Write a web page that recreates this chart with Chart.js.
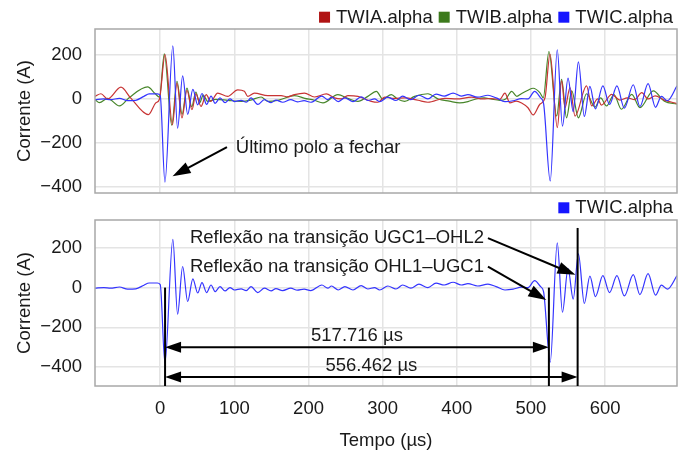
<!DOCTYPE html>
<html><head><meta charset="utf-8">
<script src="https://cdn.jsdelivr.net/npm/chart.js@4.4.0/dist/chart.umd.min.js"></script>
<style>
html,body{margin:0;padding:0;background:#fff;}
#wrap{position:relative;width:689px;height:456px;overflow:hidden;}
.cv{position:absolute;left:0;}
</style></head><body>
<div id="wrap">
<canvas id="c1" class="cv" style="top:0" width="689" height="200"></canvas>
<canvas id="c2" class="cv" style="top:200px" width="689" height="256"></canvas>
</div>
<script>
// ---------- data ----------
const seriesNames = ['TWIA.alpha', 'TWIB.alpha', 'TWIC.alpha'];
const xTickStep = 100;   // µs
const yTickStep = 100;   // A (labels every 200)

// TWIA.alpha (time µs / current A)
const tA = [-88,-80,-71,-53,-40,-16,-6,-1,6.5,16.5,22.5,29.3,36,42.8,48,55,62,68,77.5,91,104.5,113.5,118,127,145,163,172,181,194.5,208,224,235,244,253,266.6,284.6,293.7,302.7,315,329.7,347.7,361,383.8,400,419.8,435,446.8,458,464.9,471.6,480,487.4,496,503,512,519,525.7,535.6,541.4,545.9,552.7,559.5,575,582,590,595,609,620,630,640,649.5,658,667.6,680,697];
const vA = [12,24,0,54,5,-72,-18,0,203,-118,73,-87,40,-49,23,-34,20,-11,27,12,42,35,12,27,15,15,10,20,27,9,23,5,0,15,12,-11,-15,8,3,5,-6,-15,3,0,8,0,2,-2,27,-18,-10,-18,-40,-73,-24,6,205,-131,83,-40,52,-78,60,-32,0,-28,21,-5,5,-3,29,0,14,-5,-21];

// TWIB.alpha
const tB = [-88,-82,-71,-55,-42,-17,-7,-1,5.5,15.5,22.6,29.5,36,42.5,48,53,58,64,75,91,109,122,136,145,160,181,195,208,219.5,239.6,253,266.6,280,291.5,300,311.7,320,329.7,343,361,375,390,404,415,426,437,446,458,466,474,481,487,496,503,512,516.6,524.3,534.7,541.4,548,555,564,575,586.5,594,602,612,622,636,647,665,680,697];
const vB = [-3,-17,3,-32,6,55,25,8,206,-120,81,-70,50,-35,32,-18,18,-11,-2,-6,-11,-5,9,-11,-5,15,3,-6,-18,20,3,-11,12,35,0,20,0,-11,12,24,0,-10,-18,-12,0,5,0,-6,0,35,12,24,40,49,29,6,217,-78,90,-86,37,-86,24,-37,5,-32,20,-47,21,-40,37,-10,-24];

// TWIC.alpha
const tC = [-88,-76,-67,-55,-44,-33,-22,-15,-4,0,6.3,17,23.4,30.2,37,44,50.5,56.3,62.6,68.5,74,80.6,87.4,94,100,109,116,122.5,131.5,140.5,149.5,156,165,176,185,194,203,218,226,231,240,249,260,271,280,289,296,307,318,327,338,349,361,372,383,395,406,415,428,442,453,465,476,487,496,505,513,517,526,535.5,542.5,550,557,564,572,579.5,587,597,606,616,626,638,647,658,668,676,684,697];
const vC = [-3,0,-3,3,-8,-6,12,23,23,15,-380,243,-134,106,-70,44,-27,25,-25,13,-20,5,-17,0,-12,-6,-15,5,-25,-3,-17,-5,-15,-3,-13,-8,-15,13,-3,8,-12,5,-12,10,-7,0,-12,8,-7,13,-3,17,0,22,13,27,13,20,8,17,5,-12,-8,2,0,35,5,-20,-375,225,-124,95,-58,170,-80,58,-45,60,-25,60,-42,65,-35,70,-38,12,-8,60];

// annotation values (data units)
const T0 = 6.5;                       // first arrival (µs)
const delays = [517.716, 556.462];    // µs
const reflLabels = ['Reflexão na transição UGC1–OHL2', 'Reflexão na transição OHL1–UGC1'];
const topLabel = 'Último polo a fechar';

// ---------- style ----------
const FAMILY = "'Liberation Sans', Arial, sans-serif";
const FS = 18.5;
const FONT = {family: FAMILY, size: FS, lineHeight: 1.2};
const TXT = '#1a1a1a';
const GRID = '#e4e4e4';
const FRAME = '#a8a8a8';
const lineCol = ['#c83434', '#47862a', '#3434ff'];
const boxCol  = ['#b01313', '#3c7a1c', '#1616ff'];

const pts = (t, v) => t.map((x, i) => ({x, y: v[i]}));
const fmtY = v => (v % 200 === 0) ? (v < 0 ? '\u2212' + Math.abs(v) : String(v)) : '';

function ds(i, t, v, order) {
  return {label: seriesNames[i], data: pts(t, v), borderColor: lineCol[i], backgroundColor: boxCol[i],
    boxColor: boxCol[i], borderWidth: 1.2, pointRadius: 0, cubicInterpolationMode: 'monotone', order};
}

function arrowHead(ctx, x1, y1, x2, y2, len, hw) {
  const a = Math.atan2(y2 - y1, x2 - x1), c = Math.cos(a), s = Math.sin(a);
  ctx.beginPath();
  ctx.moveTo(x2, y2);
  ctx.lineTo(x2 - c * len - s * hw, y2 - s * len + c * hw);
  ctx.lineTo(x2 - c * len + s * hw, y2 - s * len - c * hw);
  ctx.closePath(); ctx.fill();
}
function arrow(ctx, x1, y1, x2, y2, len, hw, both) {
  const a = Math.atan2(y2 - y1, x2 - x1), c = Math.cos(a), s = Math.sin(a);
  ctx.beginPath();
  ctx.moveTo(both ? x1 + c * len * 0.8 : x1, both ? y1 + s * len * 0.8 : y1);
  ctx.lineTo(x2 - c * len * 0.8, y2 - s * len * 0.8);
  ctx.stroke();
  arrowHead(ctx, x1, y1, x2, y2, len, hw);
  if (both) arrowHead(ctx, x2, y2, x1, y1, len, hw);
}

const framePlugin = {id: 'frame', afterDatasetsDraw(chart) {
  const a = chart.chartArea, ctx = chart.ctx;
  ctx.save(); ctx.strokeStyle = FRAME; ctx.lineWidth = 1.5;
  ctx.strokeRect(a.left, a.top, a.right - a.left, a.bottom - a.top);
  ctx.restore();
}};

const legendPlugin = {id: 'mylegend', afterDraw(chart, args, opts) {
  const ctx = chart.ctx; ctx.save();
  ctx.font = FS + 'px ' + FAMILY; ctx.textBaseline = 'alphabetic'; ctx.textAlign = 'left';
  let right = 673;
  const items = chart.data.datasets.map(d => d).sort((p, q) => seriesNames.indexOf(q.label) - seriesNames.indexOf(p.label));
  for (const d of items) {
    const w = ctx.measureText(d.label).width;
    const tx = right - w;
    ctx.fillStyle = TXT; ctx.fillText(d.label, tx, opts.base);
    ctx.fillStyle = d.boxColor; ctx.fillRect(tx - 6 - 11, opts.base - 11, 11, 11);
    right = tx - 6 - 11 - 6;
  }
  ctx.restore();
}};

function noPad(s) { s.paddingTop = 0; s.paddingBottom = 0; s.paddingLeft = 0; s.paddingRight = 0; }

function opts(cfg) {
  return {
    responsive: false, animation: false, devicePixelRatio: 1,
    layout: {padding: {top: cfg.padTop, right: 12, left: 0, bottom: 0}},
    plugins: {legend: {display: false}, tooltip: {enabled: false}, mylegend: {base: cfg.legendBase}},
    scales: {
      x: {type: 'linear', min: -88, max: 697,
        ticks: {display: cfg.showX, stepSize: xTickStep, includeBounds: false, padding: 12, maxRotation: 0,
          font: FONT, color: TXT, callback: v => String(v)},
        grid: {color: GRID, lineWidth: 1.5, drawTicks: false},
        border: {display: false},
        title: {display: cfg.showX, text: 'Tempo (µs)', font: FONT, color: TXT, padding: {top: 0, bottom: 4}},
        afterFit: s => { s.height = cfg.xh; noPad(s); }
      },
      y: {type: 'linear', min: cfg.ymin, max: cfg.ymax,
        ticks: {stepSize: yTickStep, includeBounds: false, padding: 13, font: FONT, color: TXT, callback: fmtY},
        grid: {color: GRID, lineWidth: 1.5, drawTicks: false},
        border: {display: false},
        title: {display: true, text: 'Corrente (A)', font: FONT, color: TXT, padding: {top: 14, bottom: 0}},
        afterFit: s => { s.width = 95; noPad(s); }
      }
    }
  };
}

// top annotation
const topAnno = {id: 'topanno', afterDatasetsDraw(chart) {
  const ctx = chart.ctx, X = chart.scales.x, Y = chart.scales.y;
  ctx.save();
  ctx.fillStyle = TXT; ctx.strokeStyle = '#000'; ctx.lineWidth = 2;
  ctx.font = FS + 'px ' + FAMILY; ctx.textBaseline = 'alphabetic';
  ctx.fillText(topLabel, X.getPixelForValue(102), Y.getPixelForValue(-247));
  ctx.fillStyle = '#000';
  arrow(ctx, X.getPixelForValue(90), Y.getPixelForValue(-220), X.getPixelForValue(16.6), Y.getPixelForValue(-353), 18, 6, false);
  ctx.restore();
}};

// bottom annotations
const botAnno = {id: 'botanno', afterDatasetsDraw(chart) {
  const ctx = chart.ctx, X = chart.scales.x, Y = chart.scales.y, a = chart.chartArea;
  ctx.save();
  ctx.strokeStyle = '#000'; ctx.fillStyle = '#000'; ctx.lineWidth = 2;
  const xs = [T0, T0 + delays[0], T0 + delays[1]].map(v => X.getPixelForValue(v));
  const tops = [0, 0, 300].map(v => Y.getPixelForValue(v));
  xs.forEach((x, i) => { ctx.beginPath(); ctx.moveTo(x, tops[i]); ctx.lineTo(x, a.bottom); ctx.stroke(); });
  const levels = [-300, -450];
  ctx.font = FS + 'px ' + FAMILY; ctx.textAlign = 'center'; ctx.textBaseline = 'alphabetic';
  levels.forEach((lv, i) => {
    const y = Y.getPixelForValue(lv);
    arrow(ctx, xs[0], y, xs[i + 1], y, 16, 5.5, true);
    ctx.fillStyle = TXT;
    ctx.fillText(delays[i].toFixed(3) + ' µs', (xs[0] + xs[i + 1]) / 2, y - 6);
    ctx.fillStyle = '#000';
  });
  ctx.textAlign = 'left';
  const lab = [[40, 224], [40, 80]];
  lab.forEach((p, i) => { ctx.fillStyle = TXT; ctx.fillText(reflLabels[i], X.getPixelForValue(p[0]), Y.getPixelForValue(p[1])); });
  ctx.fillStyle = '#000';
  arrow(ctx, X.getPixelForValue(442), Y.getPixelForValue(249), X.getPixelForValue(560), Y.getPixelForValue(64), 18, 6, false);
  arrow(ctx, X.getPixelForValue(442), Y.getPixelForValue(106), X.getPixelForValue(520.7), Y.getPixelForValue(-62), 18, 6, false);
  ctx.restore();
}};

new Chart(document.getElementById('c1'), {
  type: 'line',
  data: {datasets: [ds(0, tA, vA, 1), ds(1, tB, vB, 2), ds(2, tC, vC, 0)]},
  options: opts({padTop: 29, showX: false, xh: 7, ymin: -430, ymax: 320, legendBase: 22.7}),
  plugins: [framePlugin, legendPlugin, topAnno]
});

new Chart(document.getElementById('c2'), {
  type: 'line',
  data: {datasets: [ds(2, tC, vC, 0)]},
  options: opts({padTop: 20, showX: true, xh: 70, ymin: -495, ymax: 340, legendBase: 13.3}),
  plugins: [framePlugin, legendPlugin, botAnno]
});
</script>
</body></html>
